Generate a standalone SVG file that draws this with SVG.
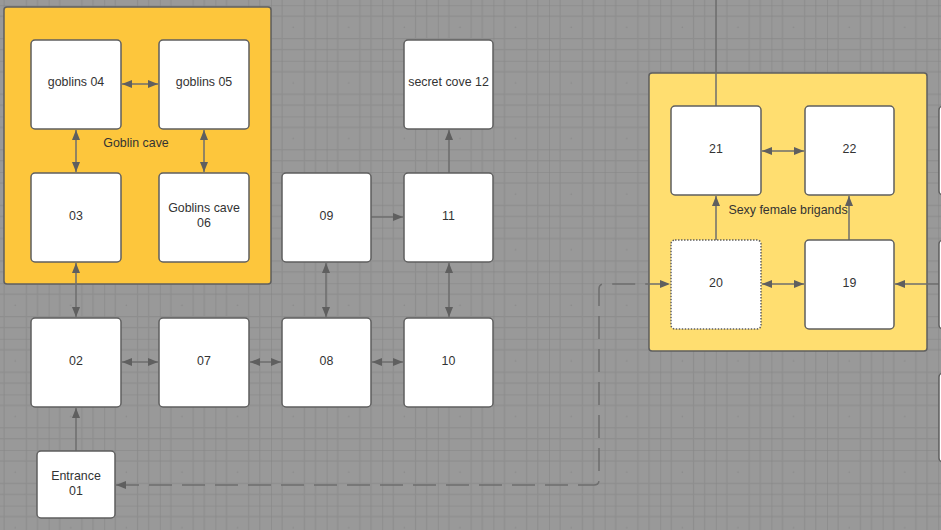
<svg xmlns="http://www.w3.org/2000/svg" width="941" height="530" viewBox="0 0 941 530">
<style>
.node rect{fill:#ffffff;stroke:#5f5f5f;stroke-width:1.5}
.grp{stroke:#5f5f5f;stroke-width:1.5}
text{font-family:"Liberation Sans",Arial,sans-serif;font-size:12.4px;fill:#333333;text-anchor:middle}
.c{fill:none;stroke:#6e6e6e;stroke-width:1.5}
.d{stroke-dasharray:23 10}
</style>
<defs>
<pattern id="grid" patternUnits="userSpaceOnUse" x="48.6" y="5.2" width="55.6" height="55.6">
<rect width="55.6" height="55.6" fill="#999999"/>
<g stroke="#8e8e8e" stroke-width="1.2">
<line x1="11.1" y1="0" x2="11.1" y2="55.6"/>
<line x1="33.3" y1="0" x2="33.3" y2="55.6"/>
<line x1="44.4" y1="0" x2="44.4" y2="55.6"/>
<line x1="0" y1="11.1" x2="55.6" y2="11.1"/>
<line x1="0" y1="33.3" x2="55.6" y2="33.3"/>
<line x1="0" y1="44.4" x2="55.6" y2="44.4"/>
</g>
<g stroke="#868686" stroke-width="1.2">
<line x1="0" y1="0" x2="0" y2="55.6"/>
<line x1="0" y1="0" x2="55.6" y2="0"/>
</g>
<circle cx="22.2" cy="22.2" r="0.8" fill="#8a8a8a"/>
</pattern>
<marker id="ah" viewBox="0 0 10 8" refX="10" refY="4" markerWidth="10" markerHeight="8" markerUnits="userSpaceOnUse" orient="auto-start-reverse">
<path d="M0,0 L10,4 L0,8 z" fill="#5f5f5f"/>
</marker>
</defs>
<rect width="941" height="530" fill="url(#grid)"/>

<g id="goblin-cave">
<rect class="grp" x="4" y="7" width="267" height="277" rx="3" fill="#fdc63c"/>
</g>
<g id="sexy-female-brigands">
<rect class="grp" x="649" y="73" width="278" height="278" rx="3" fill="#ffde70"/>
</g>

<g id="connectors">
<line class="c" x1="122" y1="84" x2="158" y2="84" marker-start="url(#ah)" marker-end="url(#ah)"/>
<line class="c" x1="76" y1="130" x2="76" y2="172" marker-start="url(#ah)" marker-end="url(#ah)"/>
<line class="c" x1="204" y1="130" x2="204" y2="172" marker-start="url(#ah)" marker-end="url(#ah)"/>
<line class="c" x1="76" y1="263" x2="76" y2="317" marker-start="url(#ah)" marker-end="url(#ah)"/>
<line class="c" x1="122" y1="362" x2="158" y2="362" marker-start="url(#ah)" marker-end="url(#ah)"/>
<line class="c" x1="250" y1="362" x2="281" y2="362" marker-start="url(#ah)" marker-end="url(#ah)"/>
<line class="c" x1="372" y1="362" x2="403" y2="362" marker-start="url(#ah)" marker-end="url(#ah)"/>
<line class="c" x1="326" y1="263" x2="326" y2="317" marker-start="url(#ah)" marker-end="url(#ah)"/>
<line class="c" x1="371" y1="217" x2="403" y2="217" marker-end="url(#ah)"/>
<line class="c" x1="449" y1="263" x2="449" y2="317" marker-start="url(#ah)" marker-end="url(#ah)"/>
<line class="c" x1="449" y1="173" x2="449" y2="130" marker-end="url(#ah)"/>
<line class="c" x1="76" y1="451" x2="76" y2="408" marker-end="url(#ah)"/>
<path class="c d" d="M116,485 H594 Q599,485 599,480 V289 Q599,284 604,284 H670" marker-start="url(#ah)" marker-end="url(#ah)"/>
<line class="c" x1="716" y1="0" x2="716" y2="106"/>
<line class="c" x1="716" y1="240" x2="716" y2="196" marker-end="url(#ah)"/>
<line class="c" x1="762" y1="151" x2="804" y2="151" marker-start="url(#ah)" marker-end="url(#ah)"/>
<line class="c" x1="762" y1="284" x2="804" y2="284" marker-start="url(#ah)" marker-end="url(#ah)"/>
<line class="c" x1="849" y1="240" x2="849" y2="196" marker-end="url(#ah)"/>
<line class="c" x1="939" y1="284" x2="895" y2="284" marker-end="url(#ah)"/>
</g>

<g id="goblin-cave-label"><text x="136" y="147">Goblin cave</text></g>
<g id="brigands-label"><text x="788" y="214">Sexy female brigands</text></g>

<g id="n04" class="node"><rect x="31" y="40" width="90" height="89" rx="4"/><text x="76" y="86">goblins 04</text></g>
<g id="n05" class="node"><rect x="159" y="40" width="90" height="89" rx="4"/><text x="204" y="86">goblins 05</text></g>
<g id="n03" class="node"><rect x="31" y="173" width="90" height="89" rx="4"/><text x="76" y="220">03</text></g>
<g id="n06" class="node"><rect x="159" y="173" width="90" height="89" rx="4"/><text x="204" y="212">Goblins cave</text><text x="204" y="227">06</text></g>
<g id="n09" class="node"><rect x="282" y="173" width="89" height="89" rx="4"/><text x="326.5" y="220">09</text></g>
<g id="n11" class="node"><rect x="404" y="173" width="89" height="89" rx="4"/><text x="448.5" y="220">11</text></g>
<g id="n12" class="node"><rect x="404" y="40" width="89" height="89" rx="4"/><text x="448.5" y="86">secret cove 12</text></g>
<g id="n02" class="node"><rect x="31" y="318" width="90" height="89" rx="4"/><text x="76" y="365">02</text></g>
<g id="n07" class="node"><rect x="159" y="318" width="90" height="89" rx="4"/><text x="204" y="365">07</text></g>
<g id="n08" class="node"><rect x="282" y="318" width="89" height="89" rx="4"/><text x="326.5" y="365">08</text></g>
<g id="n10" class="node"><rect x="404" y="318" width="89" height="89" rx="4"/><text x="448.5" y="365">10</text></g>
<g id="n01" class="node"><rect x="37" y="451" width="78" height="67" rx="4"/><text x="76" y="480">Entrance</text><text x="76" y="495">01</text></g>
<g id="n21" class="node"><rect x="671" y="106" width="90" height="89" rx="4"/><text x="716" y="153">21</text></g>
<g id="n22" class="node"><rect x="805" y="106" width="89" height="89" rx="4"/><text x="849.5" y="153">22</text></g>
<g id="n20" class="node"><rect x="671" y="240" width="90" height="89" rx="4" style="stroke-dasharray:1.5 1.5"/><text x="716" y="287">20</text></g>
<g id="n19" class="node"><rect x="805" y="240" width="89" height="89" rx="4"/><text x="849.5" y="287">19</text></g>
<g id="r1" class="node"><rect x="939" y="106" width="40" height="89" rx="4"/></g>
<g id="r2" class="node"><rect x="939" y="240" width="40" height="89" rx="4"/></g>
<g id="r3" class="node"><rect x="939" y="373" width="40" height="89" rx="4"/></g>
</svg>
